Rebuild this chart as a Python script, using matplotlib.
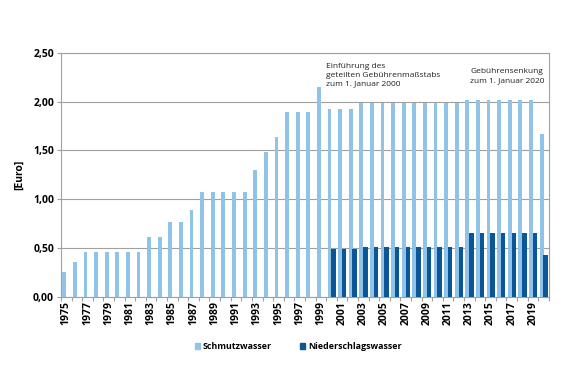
import numpy as np
import matplotlib
matplotlib.use("Agg")
import matplotlib.pyplot as plt
from matplotlib.patches import Patch

plt.rcParams['font.family'] = ['Open Sans', 'DejaVu Sans']

# Jahre und Gebühren in Euro
years = list(range(1975, 2021))
schmutzwasser = [0.25, 0.36, 0.46, 0.46, 0.46, 0.46, 0.46, 0.46, 0.61, 0.61,
                 0.77, 0.77, 0.89, 1.07, 1.07, 1.07, 1.07, 1.07, 1.30, 1.48,
                 1.64, 1.89, 1.89, 1.89, 2.15, 1.92, 1.92, 1.92, 1.99, 1.99,
                 1.99, 1.99, 1.99, 1.99, 1.99, 1.99, 1.99, 1.99, 2.02, 2.02,
                 2.02, 2.02, 2.02, 2.02, 2.02, 1.67]
niederschlag_years = list(range(2000, 2021))
niederschlagswasser = [0.49, 0.49, 0.49, 0.51, 0.51, 0.51, 0.51, 0.51, 0.51, 0.51,
                       0.51, 0.51, 0.51, 0.65, 0.65, 0.65, 0.65, 0.65, 0.65, 0.65,
                       0.43]
yticks = [0.0, 0.5, 1.0, 1.5, 2.0, 2.5]

light = '#8fc4e8'
dark = '#0a5696'
gray = '#a0a0a0'

fig = plt.figure(figsize=(5.7, 3.8), dpi=100)
ax = fig.add_axes([0.107, 0.219, 0.856, 0.642])

x = np.arange(len(years))
x2 = np.array([years.index(y) for y in niederschlag_years])
ax.bar(x - 0.19, schmutzwasser, width=0.36, color=light, zorder=3)
ax.bar(x2 + 0.19, niederschlagswasser, width=0.42, color=dark, zorder=3)

ax.set_xlim(-0.5, len(years) - 0.5)
ax.set_ylim(0, 2.5)
ax.set_yticks(yticks)
ax.set_yticklabels([f'{v:.2f}'.replace('.', ',') for v in yticks],
                   fontsize=7.5, fontweight='bold')
ax.yaxis.grid(True, color=gray, linewidth=0.8, zorder=0)

# Jahreszahlen jede zweite Kategorie, Striche an den Grenzen
ax.set_xticks(x[::2])
ax.set_xticklabels([str(y) for y in years[::2]], rotation=90,
                   fontsize=7.5, fontweight='bold')
ax.tick_params(axis='x', length=0, pad=3)
ax.set_xticks(np.arange(-0.5, len(years), 1), minor=True)
ax.tick_params(axis='x', which='minor', length=3, color=gray, width=0.8)
ax.tick_params(axis='y', length=3, color=gray, width=0.8, pad=2)

for s in ax.spines.values():
    s.set_color(gray)
    s.set_linewidth(0.8)

ax.set_ylabel('[Euro]', fontsize=7.5, fontweight='bold', labelpad=6)

ax.text(24.45, 2.40, 'Einführung des\ngeteilten Gebührenmaßstabs\nzum 1. Januar 2000',
        fontsize=6.0, va='top', ha='left', color='#222222', linespacing=1.4)
ax.text(38.1, 2.34, 'Gebührensenkung\nzum 1. Januar 2020',
        fontsize=6.0, va='top', ha='left', color='#222222', linespacing=1.4)

handles = [Patch(color=light, label='Schmutzwasser'),
           Patch(color=dark, label='Niederschlagswasser')]
fig.legend(handles=handles, loc='center', bbox_to_anchor=(0.523, 0.088),
           ncol=2, frameon=False, handlelength=0.6, handleheight=0.6,
           handletextpad=0.3, columnspacing=3.2,
           prop={'size': 6.4, 'weight': 'bold'})

fig.savefig('out.png', dpi=100)
